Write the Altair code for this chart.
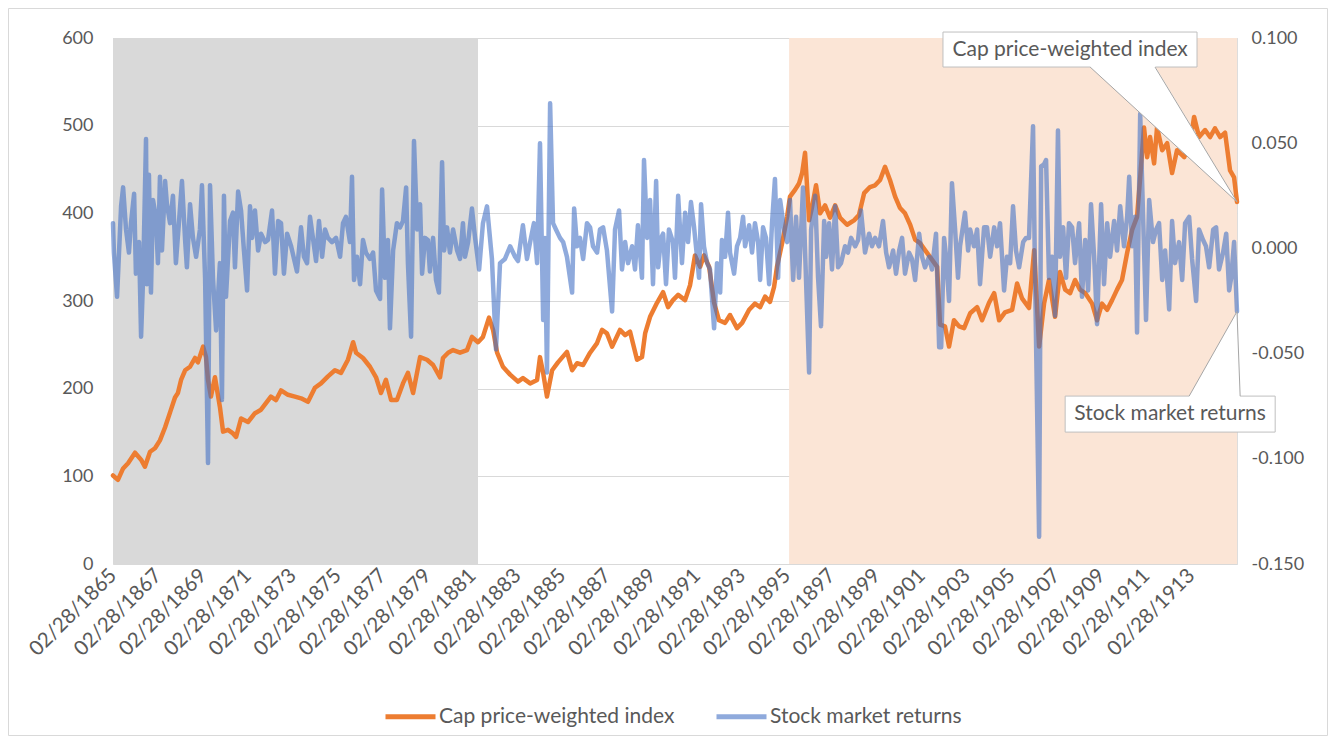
import altair as alt
import pandas as pd

# ---------------- data ----------------
# Cap price-weighted index (left axis), decimal year
index_year = [
    1865.16, 1865.38, 1865.61, 1865.83, 1866.14, 1866.41, 1866.58, 1866.81, 1867.03, 1867.25,
    1867.48, 1867.70, 1867.92, 1868.05, 1868.19, 1868.37, 1868.59, 1868.81, 1868.94, 1869.17,
    1869.30, 1869.39, 1869.52, 1869.70, 1869.92, 1870.06, 1870.28, 1870.50, 1870.64, 1870.86,
    1871.17, 1871.48, 1871.75, 1872.19, 1872.42, 1872.64, 1872.95, 1873.26, 1873.53, 1873.84,
    1874.15, 1874.42, 1874.73, 1875.04, 1875.31, 1875.62, 1875.85, 1875.98, 1876.29, 1876.60,
    1876.87, 1877.09, 1877.31, 1877.54, 1877.80, 1878.07, 1878.29, 1878.52, 1878.83, 1879.14,
    1879.41, 1879.72, 1879.85, 1880.08, 1880.30, 1880.61, 1880.92, 1881.14, 1881.41, 1881.63,
    1881.90, 1882.08, 1882.26, 1882.52, 1882.84, 1883.19, 1883.41, 1883.73, 1884.04, 1884.17,
    1884.31, 1884.48, 1884.71, 1884.97, 1885.37, 1885.60, 1885.82, 1886.09, 1886.40, 1886.71,
    1886.93, 1887.15, 1887.38, 1887.73, 1887.96, 1888.18, 1888.49, 1888.71, 1888.85, 1889.07,
    1889.38, 1889.65, 1889.87, 1890.09, 1890.32, 1890.63, 1890.85, 1891.07, 1891.30, 1891.47,
    1891.70, 1891.92, 1892.14, 1892.41, 1892.63, 1892.94, 1893.17, 1893.48, 1893.74, 1893.97,
    1894.19, 1894.41, 1894.59, 1894.72, 1894.95, 1895.17, 1895.30, 1895.53, 1895.70, 1895.84,
    1895.97, 1896.15, 1896.28, 1896.46, 1896.64, 1896.86, 1897.08, 1897.31, 1897.53, 1897.84,
    1898.15, 1898.37, 1898.60, 1898.86, 1899.09, 1899.31, 1899.53, 1899.75, 1899.98, 1900.20,
    1900.42, 1900.65, 1900.87, 1901.09, 1901.31, 1901.54, 1901.85, 1901.98, 1902.20, 1902.38,
    1902.60, 1902.83, 1903.05, 1903.32, 1903.63, 1903.85, 1904.16, 1904.39, 1904.61, 1904.87,
    1905.19, 1905.41, 1905.63, 1905.94, 1906.17, 1906.39, 1906.61, 1906.83, 1907.10, 1907.32,
    1907.55, 1907.77, 1907.99, 1908.21, 1908.44, 1908.75, 1908.97, 1909.19, 1909.42, 1909.64,
    1909.86, 1910.08, 1910.31, 1910.53, 1910.75, 1910.89, 1911.06, 1911.20, 1911.33, 1911.51,
    1911.64, 1911.87, 1912.09, 1912.31, 1912.53, 1912.85, 1913.11, 1913.29, 1913.51, 1913.78,
    1914.00, 1914.22, 1914.45, 1914.67, 1914.89, 1915.07, 1915.20,
]
index_value = [
    101, 96, 109, 115, 127, 119, 111, 128, 132, 141,
    156, 173, 190, 195, 210, 221, 225, 235, 230, 248,
    236, 210, 191, 213, 179, 151, 153, 149, 145, 166,
    162, 172, 176, 191, 187, 198, 193, 191, 189, 185,
    201, 206, 214, 221, 218, 233, 253, 241, 235, 225,
    213, 195, 210, 187, 187, 206, 218, 195, 236, 233,
    227, 213, 235, 241, 244, 241, 244, 259, 253, 259,
    281, 267, 241, 225, 216, 208, 212, 206, 210, 236,
    218, 191, 221, 230, 242, 221, 229, 227, 241, 252,
    267, 263, 248, 267, 261, 265, 233, 236, 263, 282,
    298, 310, 293, 301, 307, 301, 318, 352, 339, 352,
    339, 298, 278, 275, 284, 269, 275, 290, 297, 293,
    305, 299, 316, 339, 366, 396, 419, 427, 434, 446,
    469, 392, 407, 432, 400, 409, 395, 409, 395, 387,
    392, 398, 423, 430, 432, 438, 453, 438, 419, 406,
    400, 387, 370, 366, 358, 350, 339, 273, 271, 248,
    278, 271, 269, 286, 293, 278, 298, 309, 278, 287,
    290, 320, 303, 292, 358, 248, 297, 324, 282, 333,
    313, 309, 324, 313, 309, 297, 278, 297, 290, 301,
    313, 324, 355, 381, 396, 441, 498, 464, 487, 457,
    498, 472, 480, 446, 472, 464, 480, 510, 487, 495,
    487, 497, 487, 492, 449, 441, 413,
]

# Stock market returns (right axis), decimal year
returns_year = [
    1865.16, 1865.20, 1865.34, 1865.52, 1865.61, 1865.74, 1865.87, 1865.96, 1866.10, 1866.18,
    1866.32, 1866.41, 1866.50, 1866.63, 1866.67, 1866.76, 1866.85, 1866.94, 1867.07, 1867.16,
    1867.25, 1867.34, 1867.48, 1867.56, 1867.70, 1867.83, 1867.96, 1868.10, 1868.23, 1868.37,
    1868.45, 1868.59, 1868.72, 1868.86, 1869.03, 1869.12, 1869.26, 1869.39, 1869.48, 1869.61,
    1869.75, 1869.92, 1870.01, 1870.10, 1870.19, 1870.37, 1870.50, 1870.59, 1870.73, 1870.86,
    1870.99, 1871.13, 1871.26, 1871.35, 1871.48, 1871.62, 1871.75, 1871.93, 1872.06, 1872.24,
    1872.37, 1872.51, 1872.64, 1872.77, 1872.91, 1873.09, 1873.22, 1873.35, 1873.53, 1873.66,
    1873.80, 1873.93, 1874.06, 1874.20, 1874.33, 1874.47, 1874.60, 1874.73, 1874.91, 1875.09,
    1875.27, 1875.40, 1875.53, 1875.71, 1875.80, 1875.89, 1876.02, 1876.16, 1876.29, 1876.42,
    1876.60, 1876.74, 1876.87, 1877.05, 1877.14, 1877.27, 1877.40, 1877.49, 1877.63, 1877.80,
    1877.94, 1878.07, 1878.21, 1878.29, 1878.43, 1878.56, 1878.70, 1878.83, 1878.92, 1879.05,
    1879.18, 1879.27, 1879.41, 1879.54, 1879.67, 1879.81, 1879.90, 1880.03, 1880.16, 1880.30,
    1880.48, 1880.61, 1880.74, 1880.83, 1880.97, 1881.14, 1881.28, 1881.46, 1881.63, 1881.81,
    1882.03, 1882.21, 1882.39, 1882.61, 1882.84, 1883.06, 1883.19, 1883.41, 1883.59, 1883.73,
    1883.90, 1884.04, 1884.17, 1884.31, 1884.39, 1884.48, 1884.62, 1884.75, 1884.88, 1885.06,
    1885.20, 1885.37, 1885.60, 1885.69, 1885.82, 1885.95, 1886.09, 1886.26, 1886.40, 1886.53,
    1886.71, 1886.84, 1886.98, 1887.15, 1887.38, 1887.51, 1887.69, 1887.82, 1887.96, 1888.09,
    1888.27, 1888.40, 1888.53, 1888.71, 1888.80, 1888.94, 1889.07, 1889.20, 1889.34, 1889.43,
    1889.56, 1889.65, 1889.78, 1889.91, 1890.09, 1890.18, 1890.32, 1890.49, 1890.63, 1890.76,
    1890.89, 1891.03, 1891.16, 1891.25, 1891.34, 1891.47, 1891.61, 1891.74, 1891.92, 1892.05,
    1892.19, 1892.27, 1892.41, 1892.54, 1892.63, 1892.81, 1892.94, 1893.08, 1893.21, 1893.30,
    1893.48, 1893.61, 1893.74, 1893.88, 1893.97, 1894.10, 1894.23, 1894.37, 1894.50, 1894.63,
    1894.77, 1894.86, 1895.04, 1895.17, 1895.30, 1895.44, 1895.57, 1895.70, 1895.88, 1895.97,
    1896.15, 1896.24, 1896.42, 1896.55, 1896.68, 1896.82, 1896.91, 1897.04, 1897.17, 1897.31,
    1897.44, 1897.57, 1897.75, 1897.88, 1898.02, 1898.20, 1898.33, 1898.46, 1898.64, 1898.82,
    1898.95, 1899.09, 1899.26, 1899.44, 1899.58, 1899.71, 1899.89, 1900.02, 1900.16, 1900.29,
    1900.42, 1900.60, 1900.73, 1900.87, 1901.05, 1901.18, 1901.31, 1901.49, 1901.62, 1901.80,
    1901.94, 1902.03, 1902.16, 1902.25, 1902.38, 1902.51, 1902.65, 1902.78, 1902.87, 1903.09,
    1903.23, 1903.32, 1903.49, 1903.63, 1903.76, 1903.94, 1904.07, 1904.21, 1904.39, 1904.52,
    1904.65, 1904.83, 1904.96, 1905.10, 1905.23, 1905.36, 1905.50, 1905.68, 1905.81, 1905.94,
    1906.12, 1906.21, 1906.39, 1906.48, 1906.61, 1906.70, 1906.83, 1906.97, 1907.10, 1907.23,
    1907.32, 1907.46, 1907.59, 1907.72, 1907.86, 1907.99, 1908.17, 1908.30, 1908.44, 1908.57,
    1908.70, 1908.84, 1908.97, 1909.15, 1909.28, 1909.42, 1909.55, 1909.73, 1909.86, 1910.00,
    1910.17, 1910.31, 1910.40, 1910.53, 1910.66, 1910.75, 1910.89, 1911.02, 1911.15, 1911.29,
    1911.46, 1911.60, 1911.73, 1911.87, 1912.00, 1912.18, 1912.31, 1912.44, 1912.62, 1912.76,
    1912.89, 1913.07, 1913.20, 1913.38, 1913.51, 1913.69, 1913.82, 1913.96, 1914.14, 1914.27,
    1914.40, 1914.58, 1914.72, 1914.85, 1914.94, 1915.07, 1915.20,
]
returns_value = [
    0.012, -0.002, -0.023, 0.020, 0.029, 0.009, -0.002, 0.012, 0.026, -0.012,
    0.003, -0.042, -0.014, 0.052, -0.017, 0.035, -0.021, 0.023, 0.015, -0.007,
    0.034, -0.001, 0.032, 0.021, 0.012, 0.025, -0.007, 0.013, 0.032, 0.004,
    -0.009, 0.021, 0.005, -0.004, 0.009, 0.030, -0.014, -0.102, 0.030, -0.014,
    -0.039, -0.007, -0.072, 0.025, -0.023, 0.013, 0.017, -0.009, 0.027, 0.018,
    -0.001, -0.020, 0.020, 0.005, 0.018, -0.001, 0.007, 0.003, 0.004, 0.018,
    -0.012, 0.013, 0.012, -0.012, 0.007, 0.001, -0.005, -0.011, 0.010, -0.004,
    -0.007, 0.015, 0.005, -0.006, 0.013, -0.004, 0.009, 0.005, 0.003, 0.005,
    -0.004, 0.012, 0.015, 0.003, 0.034, -0.015, -0.004, -0.017, 0.004, -0.002,
    -0.005, -0.002, -0.020, -0.024, 0.028, -0.014, 0.004, -0.038, -0.001, 0.012,
    0.010, 0.013, 0.029, -0.007, -0.042, 0.051, 0.009, 0.021, -0.012, 0.005,
    0.004, -0.011, 0.005, -0.015, -0.021, 0.041, -0.001, 0.010, -0.002, 0.009,
    -0.001, -0.005, 0.012, -0.004, 0.003, 0.019, 0.005, -0.010, 0.012, 0.020,
    -0.005, -0.048, -0.007, -0.005, 0.001, -0.004, -0.006, 0.011, -0.005, 0.003,
    0.012, -0.007, 0.050, -0.034, 0.005, -0.059, 0.069, 0.012, 0.009, 0.005,
    0.003, -0.004, -0.021, 0.019, 0.001, 0.005, -0.005, 0.012, 0.010, 0.001,
    -0.002, 0.009, 0.010, -0.001, -0.030, 0.009, 0.018, -0.010, 0.003, -0.007,
    0.001, -0.010, 0.011, -0.014, 0.042, 0.005, 0.023, -0.017, 0.032, -0.009,
    0.005, 0.007, -0.017, 0.009, 0.003, -0.014, 0.025, -0.007, 0.017, 0.003,
    0.022, 0.010, -0.004, -0.014, 0.021, 0.001, -0.007, -0.010, -0.038, -0.007,
    -0.021, 0.004, -0.004, 0.017, -0.002, -0.012, 0.001, 0.005, 0.015, 0.001,
    0.011, -0.002, 0.012, 0.003, -0.015, 0.010, 0.005, -0.017, 0.012, 0.033,
    -0.014, 0.023, 0.009, 0.003, 0.023, -0.015, 0.015, -0.014, 0.029, -0.001,
    -0.059, 0.009, 0.025, -0.014, -0.037, 0.013, -0.004, 0.012, -0.010, 0.020,
    -0.009, -0.007, 0.001, -0.002, 0.005, 0.001, 0.004, 0.018, -0.002, 0.007,
    0.001, 0.005, 0.001, 0.013, -0.002, -0.009, -0.001, -0.012, -0.001, 0.005,
    -0.012, -0.002, -0.005, -0.015, 0.007, -0.004, -0.009, -0.004, -0.010, 0.007,
    -0.047, -0.047, 0.005, -0.004, -0.025, 0.031, 0.009, -0.014, 0.001, 0.017,
    -0.001, 0.009, 0.001, 0.009, -0.017, 0.010, 0.010, -0.004, 0.010, 0.001,
    0.012, -0.020, -0.004, -0.007, 0.020, -0.001, -0.009, 0.003, 0.005, 0.005,
    0.058, -0.014, -0.137, 0.039, 0.040, 0.042, -0.014, -0.004, -0.032, 0.056,
    -0.004, 0.010, -0.014, 0.012, 0.010, -0.007, 0.012, -0.023, 0.004, -0.020,
    0.021, -0.004, -0.036, 0.021, -0.017, 0.012, -0.004, 0.013, -0.001, 0.020,
    0.001, 0.015, 0.034, 0.001, 0.015, -0.040, 0.064, 0.015, -0.034, 0.023,
    0.003, 0.009, 0.012, -0.015, -0.001, -0.029, 0.013, -0.007, 0.003, -0.015,
    0.012, 0.015, -0.005, -0.025, 0.009, 0.004, 0.001, -0.009, 0.009, 0.010,
    -0.010, -0.002, 0.007, -0.020, -0.014, 0.003, -0.030,
]

# shaded periods
period_start = [1865.16, 1895.26]
period_end = [1881.41, 1915.20]
period_name = ["early", "late"]
period_color = ["#D9D9D9", "#FBE5D6"]

series_names = ["Cap price-weighted index", "Stock market returns"]
series_colors = ["#ED7D31", "#8FAADC"]

x_tick_years = list(range(1865, 1914, 2))       # labels 02/28/yyyy
feb28 = 0.16                                      # Feb 28 as a fraction of the year
left_ticks = [0, 100, 200, 300, 400, 500, 600]
right_ticks = [-0.15, -0.10, -0.05, 0.0, 0.05, 0.10]

X_DOMAIN = [1865.16, 1915.20]
LEFT_DOMAIN = [0, 600]
RIGHT_DOMAIN = [-0.15, 0.10]

# callout geometry (data units)
callout1_box = dict(x=1902.11, x2=1913.42, y=566.9, y2=606.8)
callout1_base = [1908.66, 1911.55]
callout1_text = dict(x=1907.77, y=586.3)
callout2_box = dict(x=1907.55, x2=1916.90, y=-0.0702, y2=-0.0873)
callout2_base = [1913.07, 1915.34]
callout2_text = dict(x=1912.22, y=-0.0787)

FONT = "Lato"
TXT = "#595959"
W, H = 1124, 526

# ---------------- chart ----------------
x_axis = alt.Axis(
    values=[y + feb28 for y in x_tick_years],
    labelExpr="'02/28/' + floor(datum.value)",
    labelAngle=315, labelAlign="right", labelBaseline="middle",
    labelFontSize=20.5, labelColor=TXT, labelFont=FONT, labelPadding=8,
    domain=False, ticks=False, grid=False, title=None, labelOverlap=False,
)


def X(field):
    return alt.X(field, type="quantitative",
                 scale=alt.Scale(domain=X_DOMAIN, nice=False, zero=False),
                 axis=x_axis)


def Yl(field, axis=None):
    return alt.Y(field, type="quantitative",
                 scale=alt.Scale(domain=LEFT_DOMAIN, nice=False, zero=False),
                 axis=axis)


def Yr(field, axis=None):
    return alt.Y(field, type="quantitative",
                 scale=alt.Scale(domain=RIGHT_DOMAIN, nice=False, zero=False),
                 axis=axis)


df_index = pd.DataFrame({"year": index_year, "value": index_value,
                         "series": series_names[0]})
df_ret = pd.DataFrame({"year": returns_year, "ret": returns_value})
df_per = pd.DataFrame({"start": period_start, "end": period_end, "name": period_name})

border = alt.Chart(pd.DataFrame({"k": [0]})).mark_rect(
    filled=False, color="#D9D9D9", strokeWidth=1
).encode(x=alt.value(-104.5), x2=alt.value(W + 90.5),
         y=alt.value(-29.5), y2=alt.value(H + 171.5))

shade = alt.Chart(df_per).mark_rect().encode(
    x=X("start"), x2="end",
    y=alt.value(0), y2=alt.value(H),
    color=alt.Color("name:N", scale=alt.Scale(domain=period_name, range=period_color),
                    legend=None),
)

left_axis = alt.Axis(values=left_ticks, grid=True, gridColor="#D9D9D9", gridWidth=1,
                     domain=False, ticks=False, labelFontSize=18, labelColor=TXT,
                     labelFont=FONT, labelPadding=20, title=None, orient="left")
right_axis = alt.Axis(values=right_ticks, grid=False, domain=False, ticks=False,
                      labelExpr="replace(format(datum.value, '.3f'), '\u2212', '-')",
                      labelFontSize=18, labelColor=TXT, labelFont=FONT,
                      labelPadding=14, title=None, orient="right")

orange = alt.Chart(df_index).mark_line(strokeWidth=4.5, strokeJoin="round",
                                       strokeCap="round").encode(
    x=X("year"),
    y=Yl("value", left_axis),
    color=alt.Color("series:N",
                    scale=alt.Scale(domain=series_names, range=series_colors),
                    legend=alt.Legend(title=None, orient="none", legendX=270, legendY=651,
                                      direction="horizontal", symbolType="stroke",
                                      symbolSize=2500, symbolStrokeWidth=5,
                                      labelFontSize=21, labelColor=TXT, labelFont=FONT,
                                      labelLimit=0, labelOffset=1, columnPadding=31)),
)

blue = alt.Chart(df_ret).mark_line(color="#4472C4", opacity=0.6, strokeWidth=4.5,
                                   strokeJoin="round", strokeCap="round").encode(
    x=X("year"),
    y=Yr("ret", right_axis),
)

# callout 1 (left scale)
c1_box = alt.Chart(pd.DataFrame([callout1_box])).mark_rect(
    fill="white", stroke="#BFBFBF", strokeWidth=1).encode(
    x=X("x"), x2="x2", y=Yl("y"), y2="y2")
c1_wedge = alt.Chart(pd.DataFrame({
    "x": [callout1_base[0], callout1_base[1], index_year[-1]],
    "y": [568.2, 568.2, index_value[-1]],
    "y2": [566.9, 566.9 - (566.9 - index_value[-1]) * (callout1_base[1] - callout1_base[0])
           / (index_year[-1] - callout1_base[0]), index_value[-1]],
})).mark_area(color="white", opacity=1).encode(x=X("x"), y=Yl("y"), y2="y2")
c1_edges = alt.Chart(pd.DataFrame({
    "x": callout1_base, "y": [566.9, 566.9],
    "x2": [index_year[-1]] * 2, "y2": [index_value[-1]] * 2,
})).mark_rule(color="#A6A6A6", strokeWidth=1).encode(
    x=X("x"), y=Yl("y"), x2="x2", y2="y2")
c1_text = alt.Chart(pd.DataFrame([dict(callout1_text, t=series_names[0])])).mark_text(
    font=FONT, fontSize=21, color=TXT, align="center", baseline="middle").encode(
    x=X("x"), y=Yl("y"), text="t:N")

# callout 2 (right scale)
c2_box = alt.Chart(pd.DataFrame([callout2_box])).mark_rect(
    fill="white", stroke="#BFBFBF", strokeWidth=1).encode(
    x=X("x"), x2="x2", y=Yr("y"), y2="y2")
c2_wedge = alt.Chart(pd.DataFrame({
    "x": [callout2_base[0], returns_year[-1], callout2_base[1]],
    "y": [callout2_box["y"], returns_value[-1], callout2_box["y"]],
    "y2": [callout2_box["y"] - 0.0006] * 3,
})).mark_area(color="white", opacity=1).encode(x=X("x"), y=Yr("y"), y2="y2")
c2_edges = alt.Chart(pd.DataFrame({
    "x": callout2_base, "y": [callout2_box["y"]] * 2,
    "x2": [returns_year[-1]] * 2, "y2": [returns_value[-1]] * 2,
})).mark_rule(color="#A6A6A6", strokeWidth=1).encode(
    x=X("x"), y=Yr("y"), x2="x2", y2="y2")
c2_text = alt.Chart(pd.DataFrame([dict(callout2_text, t=series_names[1])])).mark_text(
    font=FONT, fontSize=21, color=TXT, align="center", baseline="middle").encode(
    x=X("x"), y=Yr("y"), text="t:N")

chart = alt.layer(
    border, shade, orange, blue,
    c1_box, c1_wedge, c1_edges, c1_text,
    c2_box, c2_wedge, c2_edges, c2_text,
).resolve_scale(y="independent", color="independent").properties(
    width=W, height=H,
    autosize=alt.AutoSizeParams(type="none"),
    padding={"left": 105, "top": 30, "right": 91, "bottom": 172},
    background="white",
).configure_view(stroke=None).configure(font=FONT)

chart.save("out.html", embed_options={"renderer": "svg", "actions": False})
